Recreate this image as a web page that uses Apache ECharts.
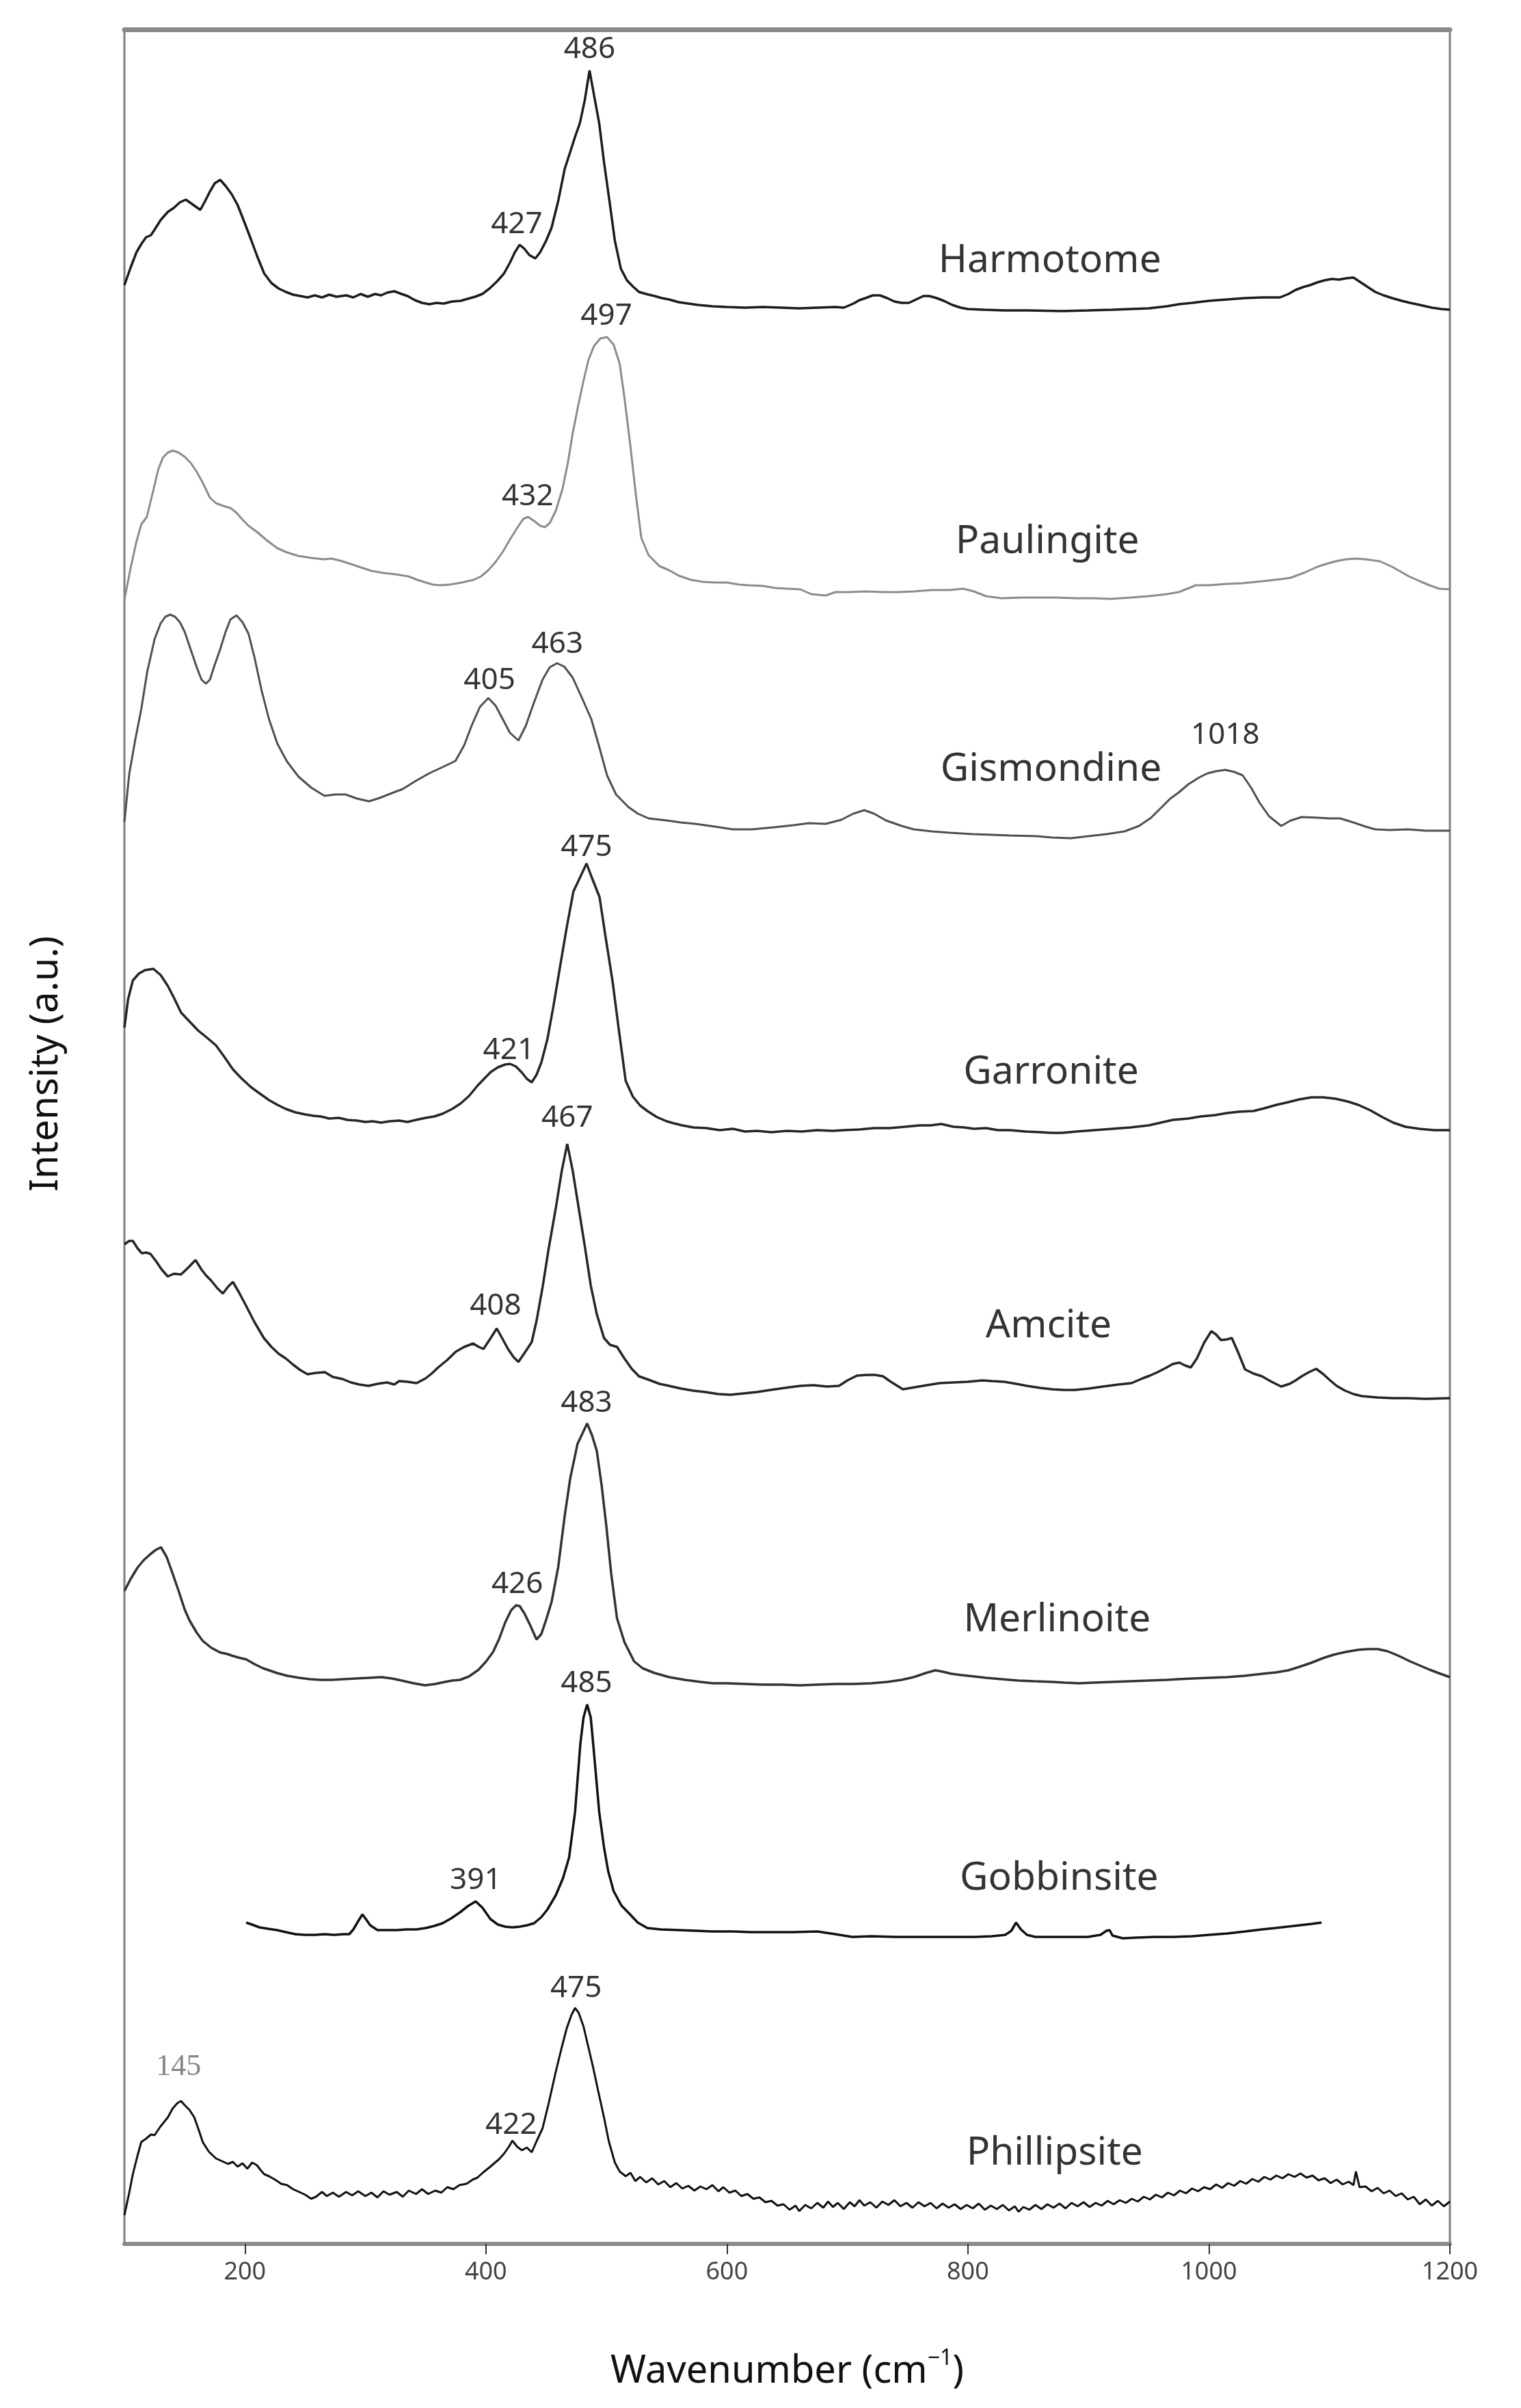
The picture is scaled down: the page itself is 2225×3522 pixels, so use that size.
<!DOCTYPE html>
<html>
<head>
<meta charset="utf-8">
<title>Raman spectra of zeolites</title>
<script src="https://cdn.jsdelivr.net/npm/echarts@6/dist/echarts.min.js"></script>
<style>
  html, body { margin: 0; padding: 0; background: #fff; }
  #chart { width: 2225px; height: 3522px; }
</style>
</head>
<body>
<div id="chart"></div>
<script>
// wavenumber (cm-1), stacked intensity (a.u.)
const harmotome = [[100,2845],[105,2870],[110,2893],[114,2905],[118,2915],[122,2918],[125,2926],[130,2940],[136,2952],[141,2958],[146,2966],[151,2970],[155,2965],[159,2960],[163,2955],[167,2968],[171,2982],[175,2994],[179.5,2999],[184,2990],[189,2978],[194,2962],[200,2935],[205,2912],[210,2888],[216,2862],[222,2848],[228,2840],[234,2835],[240,2831],[246,2829],[252,2827],[258,2830],[264,2827],[270,2831],[276,2828],[284,2830],[290,2827],[296,2832],[302,2828],[308,2832],[313,2830],[318,2834],[324,2836],[330,2832],[335,2829],[341,2823],[347,2819],[353,2817],[359,2819],[365,2818],[372,2821],[379,2822],[385,2825],[391,2828],[397,2832],[403,2840],[409,2850],[415,2862],[420,2878],[424,2893],[428,2904],[432,2898],[436,2889],[441,2884],[445,2893],[450,2910],[454.5,2929],[460,2968],[465.4,3015],[470,3040],[474,3062],[478,3082],[482,3115],[486,3159],[490,3120],[494,3082],[498,3025],[503,2962],[507,2910],[512,2869],[517,2852],[522,2843],[527,2835],[533,2832],[540,2829],[546,2826],[552,2824],[560,2820],[568,2818],[576,2816],[588,2814],[600,2813],[615,2812],[630,2813],[645,2812],[660,2811],[675,2812],[690,2813],[697,2812],[705,2818],[710,2823],[715,2826],[721,2830],[727,2830],[733,2826],[739,2821],[745,2819],[751,2819],[757,2824],[763,2829],[768,2829],[774,2826],[780,2822],[787,2816],[794,2812],[800,2810],[813,2809],[830,2808],[850,2808],[878,2807],[900,2808],[920,2809],[935,2810],[950,2811],[965,2814],[975,2817],[986,2819],[1000,2822],[1015,2824],[1030,2826],[1045,2827],[1059,2827],[1066,2832],[1072,2838],[1078,2842],[1084,2845],[1090,2849],[1096,2852],[1102,2854],[1108,2853],[1114,2855],[1120,2856],[1126,2849],[1132,2842],[1138,2835],[1145,2830],[1152,2826],[1160,2822],[1167,2819],[1175,2816],[1185,2812],[1193,2810],[1200,2809]];

const paulingite = [[100,2385],[105,2430],[110,2470],[114,2495],[118.6,2506],[124,2545],[128,2575],[132,2593],[136,2600],[140,2603],[145,2600],[150,2594],[155,2585],[160,2572],[165,2556],[171,2534],[176,2526],[182,2522],[188,2519],[193,2512],[198,2502],[203,2493],[210,2484],[218,2472],[227,2460],[235,2454],[244,2449],[255,2446],[265,2444],[272,2445],[279,2442],[288,2437],[296.5,2432],[305,2427],[315,2424],[325,2422],[335.6,2419],[343,2414],[350,2410],[356,2407],[362,2406],[370,2407],[380,2410],[390,2414],[396,2419],[402,2428],[408,2440],[414,2455],[420,2473],[426,2490],[431,2503],[435,2506],[440,2500],[445,2493],[449,2491],[453,2497],[458,2515],[463.6,2547],[468,2585],[472,2628],[476.6,2669],[481,2705],[485,2735],[489.7,2756],[495,2767],[500.5,2769],[506,2758],[511,2730],[515,2680],[520,2608],[525,2530],[529,2475],[535,2450],[544,2434],[552,2428],[560,2420],[570,2414],[580,2411],[590,2410],[600,2410],[610,2407],[618,2406],[630,2405],[640,2402],[650,2401],[661,2400],[670,2393],[682,2391],[690,2396],[702,2396],[715,2397],[730,2396],[743,2396],[755,2397],[770,2399],[785,2399],[796,2401],[805,2397],[815,2390],[828,2387],[845,2388],[860,2388],[873,2388],[890,2387],[905,2387],[918,2386],[935,2388],[950,2390],[965,2393],[975,2396],[985,2403],[989,2406],[1000,2406],[1015,2408],[1028,2409],[1045,2412],[1060,2415],[1068,2417],[1080,2425],[1090,2433],[1097,2437],[1105,2441],[1114,2444],[1121.5,2445],[1130,2444],[1142,2441],[1152,2433],[1160,2425],[1166,2419],[1175,2412],[1183,2406],[1191,2401],[1200,2400]];

const gismondine = [[100,2060],[104,2130],[109,2180],[114,2225],[119,2280],[125,2327],[130,2350],[134,2360],[138,2363],[142,2360],[146,2352],[150,2338],[155,2312],[160,2286],[164,2268],[167.6,2262],[171,2268],[175,2290],[179.4,2312],[184,2338],[188,2356],[193,2362],[198,2352],[203,2335],[208,2300],[214,2251],[220,2210],[227,2174],[235,2148],[244.5,2126],[255,2110],[266,2098],[275,2100],[283.5,2100],[293,2094],[303,2090],[312,2095],[322,2102],[331,2108],[342,2120],[353,2131],[364,2140],[374.7,2149],[382,2172],[388,2200],[395,2228],[402,2241],[408,2230],[414,2210],[420,2190],[427,2179],[433,2200],[440,2235],[447,2268],[453,2286],[459,2292],[465,2287],[472,2271],[480,2240],[487.5,2210],[494,2170],[500.5,2128],[508,2100],[518,2082],[526,2072],[535,2065],[550,2062],[562,2059],[574,2057],[590,2053],[605,2049],[621,2049],[639,2052],[655,2055],[668,2058],[682,2057],[695,2063],[705,2072],[714,2077],[722,2072],[732,2062],[745,2054],[755,2049],[770,2046],[785,2044],[804,2042],[820,2041],[835,2040],[857,2039],[870,2037],[885.5,2036],[900,2039],[915,2042],[930,2046],[942,2054],[952,2066],[960,2080],[968,2094],[975,2103],[983,2115],[992,2125],[999,2131],[1006,2134],[1013.6,2136],[1021,2133],[1028,2128],[1035,2110],[1042,2088],[1050,2068],[1060,2054],[1068,2062],[1077,2067],[1090,2066],[1100,2065],[1109,2065],[1120,2059],[1130,2053],[1138,2049],[1150,2048],[1165,2049],[1180,2047],[1200,2047]];

const garronite = [[100,1759],[103,1800],[107,1828],[112,1838],[117,1843],[124,1845],[130,1836],[136,1820],[141,1803],[147,1781],[154,1768],[161,1755],[168,1745],[176,1733],[183,1716],[190,1698],[197,1685],[205,1672],[212,1663],[220,1653],[227,1646],[234,1640],[242,1635],[250,1632],[257,1630],[263,1629],[270,1626],[278,1627],[285,1624],[293,1623],[300,1621],[306,1622],[313,1620],[320,1622],[328,1623],[335,1621],[342,1624],[350,1627],[357,1629],[364,1633],[372,1640],[379,1648],[386,1659],[393,1674],[399,1685],[404,1694],[410,1701],[416,1705],[420,1706],[425,1702],[430,1693],[434,1684],[438,1679],[442,1690],[446,1708],[451,1742],[456,1790],[461.7,1850],[467,1905],[472.6,1958],[479,1982],[483.5,1999],[488,1978],[494.3,1950],[499,1895],[505,1828],[510,1760],[516,1681],[522,1658],[528,1645],[534,1637],[542,1628],[550,1622],[556,1619],[563,1616],[572,1613],[583,1612],[594,1609],[605,1611],[615,1607],[625,1608],[637,1606],[650,1608],[662,1607],[675,1609],[688,1608],[697,1609],[710,1610],[722,1612],[735,1612],[748,1614],[760,1616],[769,1616],[778,1618],[788,1614],[797,1613],[805,1611],[815,1612],[825,1609],[835,1609],[848,1607],[860,1606],[870,1605],[878,1605],[890,1607],[905,1609],[920,1611],[935,1613],[950,1616],[960,1620],[970,1624],[983,1626],[993,1629],[1005,1631],[1015,1634],[1025,1636],[1037,1637],[1046,1641],[1056,1646],[1066,1650],[1075,1654],[1085,1657],[1095,1657],[1105,1655],[1115,1651],[1124,1646],[1134,1638],[1144,1628],[1153,1620],[1163,1614],[1174.5,1611],[1187,1609],[1200,1609]];

const amcite = [[100,1442],[104,1447],[107,1447],[111,1436],[114.4,1429],[118,1430],[121.6,1428],[126,1418],[131,1405],[136,1395],[141,1399],[147,1398],[153,1408],[159,1419],[164,1405],[168,1396],[172,1389],[177,1378],[181.7,1370],[186,1380],[190,1387],[195,1372],[201,1352],[208,1328],[215.7,1305],[222,1292],[228,1282],[234,1275],[240,1266],[246,1258],[252,1252],[259,1254],[266.4,1255],[273,1248],[281,1245],[288,1240],[295,1237],[302.6,1235],[310,1238],[318,1240],[324,1237],[328,1242],[335,1241],[342.4,1239],[350,1246],[355,1253],[360.4,1262],[368,1273],[375,1285],[382,1292],[389.4,1297],[394,1292],[398,1289],[404,1305],[409,1319],[414,1303],[418.3,1289],[423,1277],[427,1270],[432,1283],[438,1299],[442,1330],[447.3,1382],[452,1435],[458,1495],[463,1550],[467.5,1589],[472,1550],[477,1495],[482,1440],[487,1382],[492,1340],[498,1305],[503,1295],[508.8,1292],[515,1275],[521,1260],[527,1249],[535,1244],[544,1238],[552,1235],[562,1231],[572,1228],[582,1226],[593,1223],[603,1222],[614,1224],[625,1226],[636,1229],[648,1232],[661,1235],[672,1236],[683,1234],[693,1235],[700,1243],[708,1250],[716,1251],[723,1251],[729.5,1249],[736,1241],[746,1230],[756,1233],[766,1236],[776.5,1239],[788,1240],[800,1241],[812,1243],[820,1242],[830,1241],[840,1238],[849,1235],[860,1232],[870,1230],[880,1229],[888.7,1229],[900,1231],[912,1234],[925,1237],[935.7,1239],[945,1246],[951,1250],[957.4,1255],[965,1262],[970,1267],[975.5,1269],[980,1265],[985,1262],[990,1275],[996,1298],[1002,1315],[1006,1310],[1010,1302],[1015,1303],[1019,1305],[1024,1285],[1030,1259],[1037,1253],[1044,1249],[1052,1241],[1060,1234],[1067,1238],[1072,1243],[1077,1249],[1083,1255],[1089,1260],[1095,1252],[1100,1244],[1106,1235],[1113,1228],[1120,1223],[1127,1220],[1140,1218],[1153,1217],[1165,1217],[1180,1216],[1200,1217]];

const merlinoite = [[100,935],[105,952],[110.8,969],[116,980],[121.6,989],[126,995],[130.3,999],[135,985],[139.7,962],[145,935],[150,908],[154,892],[160,874],[165,862],[172,852],[179.5,845],[185,843],[190,840],[196,837],[201,835],[208,828],[215,822],[220,819],[226.6,815],[235,811],[245,808],[254,806],[262.7,805],[272,805],[282,806],[292,807],[303,808],[313.4,809],[322,807],[330,804],[340,800],[349.6,797],[358,799],[366,802],[372,804],[378.5,805],[386,810],[394,820],[400.2,832],[406,846],[411,865],[416,889],[421,907],[425,914],[428,913],[432,902],[437,884],[442,864],[446,872],[450,893],[454.5,919],[460,970],[465.4,1045],[470,1100],[476,1150],[480,1165],[484,1180],[488,1163],[492,1140],[496,1090],[500,1029],[504,960],[508.8,895],[515,860],[523,832],[530,822],[540,815],[552,809],[565,805],[578,802],[588.4,800],[600,800],[615,799],[630,798],[645,798],[660.7,797],[675,798],[690,799],[705,799],[720,800],[733,802],[745,805],[755,809],[765,815],[773,819],[779,817],[786,814],[794.6,812],[805,810],[815,808],[828,806],[841.6,804],[855,803],[870,802],[880,801],[892,800],[905,801],[920,802],[935,803],[950,804],[965,805],[975,806],[986.4,807],[1000,808],[1015,809],[1030,811],[1045,814],[1056,816],[1066,819],[1075,824],[1085,830],[1095,837],[1104,842],[1114,846],[1124,849],[1132,850],[1140,850],[1148,847],[1155,842],[1160,838],[1167,832],[1175,826],[1183,820],[1192,814],[1200,809]];

const gobbinsite = [[201,450],[206,447],[212,443],[219,441],[226.6,439],[234,436],[242,433],[250,432],[258,432],[266,433],[274,432],[282,433],[286.6,433],[290,440],[294,452],[297.5,462],[300,456],[304,446],[310,439],[318,439],[326,439],[334,440],[342.4,440],[350,442],[357,445],[364,449],[371,456],[378.5,465],[385,474],[391.5,481],[397,472],[403.8,455],[410,447],[416,444],[422,443],[428,444],[434,446],[440,449],[446,458],[451,469],[458,490],[464,515],[469,545],[474,612],[478.4,712],[481,750],[484,769],[487,750],[489,712],[494,612],[498,560],[501.5,525],[506,496],[512.4,475],[519.6,462],[526,450],[534,442],[545,440],[560,439],[575,438],[588,437],[605,437],[620,436],[640,436],[655,436],[675,437],[690,433],[704,429],[720,430],[740,429],[760,429],[780,429],[805.5,429],[820,430],[831,432],[836,438],[840,450],[844,440],[849,432],[856,429],[870,429],[885,429],[899.5,429],[910,432],[915,438],[917.6,439],[920,431],[928.5,427],[940,428],[955,429],[970,429],[986.4,430],[1000,432],[1015,434],[1030,437],[1044,440],[1055,442],[1065,444],[1075,446],[1085,448],[1093.5,450]];

const phillipsite = [[100,22],[104,55],[107,82],[111,110],[114,129],[118,134],[122,140],[125,139],[130,152],[136,165],[140,178],[144,186],[147,189],[150,183],[154,176],[158,165],[162,145],[165,129],[170,115],[176,105],[181,101],[186,97],[190,100],[194,93],[198,98],[202,90],[206,99],[210,95],[213,88],[216,82],[220,79],[225,74],[230,68],[235,66],[240,60],[245,56],[250,52],[255,46],[259,49],[264,56],[268,50],[273,55],[278,49],[284,56],[289,51],[294,57],[300,50],[305,55],[310,48],[315,57],[320,52],[326,56],[331,49],[336,58],[342,53],[347,60],[352,53],[358,58],[363,55],[368,63],[373,60],[378,66],[384,68],[389,74],[393,77],[398,85],[403,92],[407,98],[411,104],[415,112],[419,122],[422,131],[426,122],[430,117],[434,121],[438,114],[442,130],[447,149],[452,185],[458,232],[463,268],[467,295],[471,315],[474,325],[477,318],[481,298],[485,268],[489,238],[493,205],[498,165],[502,130],[507,99],[511,86],[516,79],[520,84],[524,72],[528,78],[533,70],[538,76],[543,67],[548,72],[553,63],[558,69],[563,61],[568,65],[573,58],[578,64],[583,60],[588,66],[593,57],[597,63],[602,55],[607,58],[612,50],[617,53],[622,46],[627,48],[632,41],[637,43],[642,36],[647,38],[652,30],[657,36],[660,28],[665,37],[670,32],[675,40],[680,33],[684,42],[688,34],[692,40],[697,31],[702,41],[706,35],[710,44],[714,36],[719,41],[724,33],[729,42],[734,37],[739,44],[744,35],[749,40],[754,33],[759,41],[764,35],[769,40],[774,32],[779,39],[784,33],[789,38],[794,31],[799,37],[804,32],[809,39],[814,30],[819,36],[824,31],[829,37],[834,29],[839,35],[842,27],[846,34],[851,30],[856,37],[861,31],[866,38],[871,33],[876,39],[881,32],[886,40],[891,35],[896,41],[901,34],[906,40],[911,36],[916,43],[921,38],[926,44],[931,40],[936,46],[941,42],[946,49],[951,45],[956,52],[961,48],[966,55],[971,51],[976,58],[981,54],[986,61],[991,57],[996,63],[1001,60],[1006,67],[1011,62],[1016,69],[1021,65],[1026,72],[1031,68],[1036,75],[1041,71],[1046,78],[1051,74],[1056,80],[1061,76],[1066,82],[1071,78],[1076,83],[1081,77],[1086,80],[1091,73],[1096,76],[1101,69],[1106,74],[1111,67],[1116,71],[1120,66],[1122,86],[1125,63],[1130,64],[1135,57],[1140,62],[1145,54],[1150,58],[1155,50],[1160,54],[1165,45],[1170,49],[1175,38],[1180,45],[1185,36],[1190,43],[1195,35],[1200,42]];

// peak annotations: [wavenumber, intensity, text]
const peakLabels = [
  [486, 3190, '486'], [425.6, 2934, '427'],
  [500, 2800, '497'], [434.6, 2536, '432'],
  [403, 2267, '405'], [459.3, 2320, '463'], [1013.6, 2187, '1018'],
  [483.5, 2023, '475'], [419, 1726, '421'],
  [467.5, 1627, '467'], [408, 1352, '408'],
  [483.5, 1210, '483'], [426, 945, '426'],
  [483.5, 800, '485'], [391.5, 512, '391'],
  [474.8, 354, '475'], [421, 154, '422']
];
const serifLabels = [[145, 239, '145']];
const nameLabels = [
  [868, 2880, 'Harmotome'], [866, 2469, 'Paulingite'], [869, 2136, 'Gismondine'],
  [869, 1693, 'Garronite'], [867, 1322, 'Amcite'], [874, 892, 'Merlinoite'],
  [875.7, 514, 'Gobbinsite'], [872, 112, 'Phillipsite']
];
const tickValues = [200, 400, 600, 800, 1000, 1200];

const spectra = [
  { data: harmotome, color: '#1c1c1c', width: 3.5 },
  { data: paulingite, color: '#8c8c8c', width: 3 },
  { data: gismondine, color: '#505050', width: 3 },
  { data: garronite, color: '#262626', width: 3.5 },
  { data: amcite, color: '#262626', width: 3.5 },
  { data: merlinoite, color: '#333333', width: 3.5 },
  { data: gobbinsite, color: '#111111', width: 3.5 },
  { data: phillipsite, color: '#111111', width: 3 }
]

const font = '"Noto Sans", "DejaVu Sans", sans-serif'

// text placed at data coordinates
const labelSeries = (items, style) => ({
  type: 'scatter',
  symbolSize: 0,
  silent: true,
  z: 5,
  data: items.map(d => ({ value: d })),
  label: {
    show: true,
    position: 'inside',
    formatter: p => p.value[2],
    ...style
  }
})

const chart = echarts.init(document.getElementById('chart'))

chart.setOption({
  animation: false,
  backgroundColor: '#fff',
  grid: {
    left: 182, right: 104, top: 43, bottom: 240,
    show: true, borderColor: '#7f7f7f', borderWidth: 3
  },
  xAxis: [
    {
      type: 'value', min: 100, max: 1200,
      name: 'Wavenumber (cm{sup|−1})',
      nameLocation: 'middle',
      nameGap: 152,
      nameTextStyle: {
        fontFamily: font, fontSize: 56, color: '#111', lineHeight: 70,
        rich: { sup: { fontFamily: font, fontSize: 32, lineHeight: 32, verticalAlign: 'top', color: '#111' } }
      },
      axisLine: { onZero: false, lineStyle: { color: '#8a8a8a', width: 6 } },
      axisTick: { show: true, customValues: tickValues, length: 15, lineStyle: { color: '#333', width: 2 } },
      axisLabel: {
        customValues: tickValues, margin: 24, fontFamily: font, fontSize: 36, color: '#444',
        formatter: v => String(v)
      },
      splitLine: { show: false }
    },
    {
      type: 'value', min: 100, max: 1200, position: 'top',
      axisLine: { onZero: false, lineStyle: { color: '#8a8a8a', width: 7 } },
      axisTick: { show: false }, axisLabel: { show: false }, splitLine: { show: false }
    }
  ],
  yAxis: { type: 'value', min: -20, max: 3219, show: false },
  graphic: [{
    type: 'text', x: 68, y: 1556, rotation: Math.PI / 2,
    style: {
      text: 'Intensity (a.u.)', fontFamily: font, fontSize: 56, fill: '#111',
      textAlign: 'center', textVerticalAlign: 'middle'
    }
  }],
  series: [
    ...spectra.map(s => ({
      type: 'line',
      data: s.data,
      showSymbol: false,
      silent: true,
      lineStyle: { color: s.color, width: s.width },
      z: 3
    })),
    labelSeries(peakLabels, { fontFamily: font, fontSize: 44, color: '#000' }),
    labelSeries(serifLabels, { fontFamily: '"Liberation Serif", serif', fontSize: 44, color: '#666' }),
    labelSeries(nameLabels, { fontFamily: font, fontSize: 57, color: '#000' })
  ]
})
</script>
</body>
</html>
